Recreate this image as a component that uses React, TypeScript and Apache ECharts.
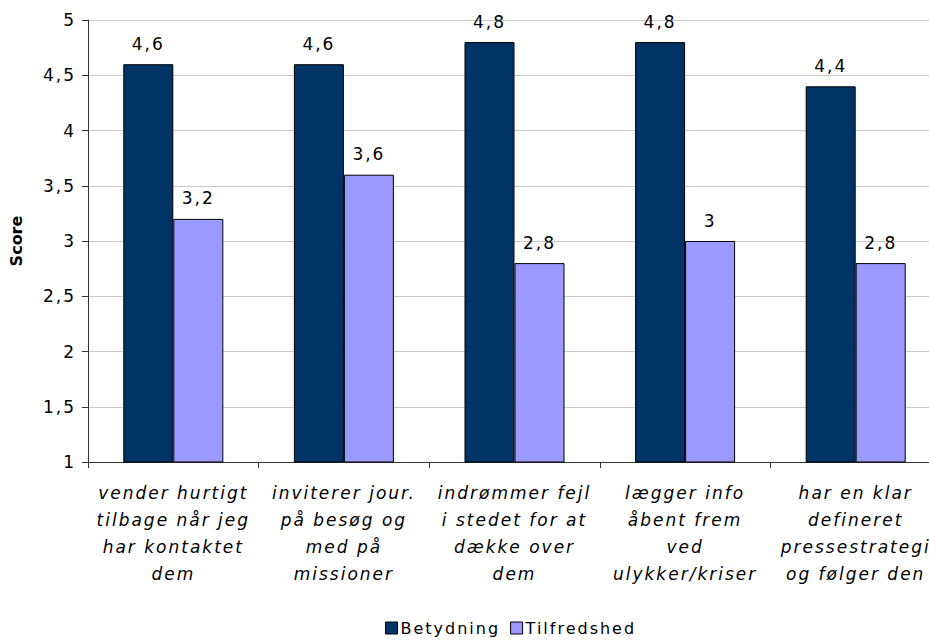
import React, { useEffect, useRef } from "react";
import * as echarts from "echarts";

const categories = [
  "vender hurtigt\ntilbage når jeg\nhar kontaktet\ndem",
  "inviterer jour.\npå besøg og\nmed på\nmissioner",
  "indrømmer fejl\ni stedet for at\ndække over\ndem",
  "lægger info\nåbent frem\nved\nulykker/kriser",
  "har en klar\ndefineret\npressestrategi\nog følger den",
];
const betydning = [4.6, 4.6, 4.8, 4.8, 4.4];
const tilfredshed = [3.2, 3.6, 2.8, 3.0, 2.8];
const yTicks = { min: 1, max: 5, interval: 0.5 };

const FONT = "'DejaVu Sans', Verdana, sans-serif";
const fmt = (v: number) => String(v).replace(".", ",");

export default function App() {
  const ref = useRef<HTMLDivElement>(null);
  useEffect(() => {
    if (!ref.current) return;
    const chart = echarts.init(ref.current, null, { renderer: "svg" });
    const labelCfg = {
      show: true,
      position: "top" as const,
      distance: 12,
      color: "#000",
      fontFamily: FONT,
      fontSize: 17,
      formatter: (p: any) => fmt(p.value),
    };
    chart.setOption({
      animation: false,
      backgroundColor: "#fff",
      textStyle: { fontFamily: FONT },
      grid: { left: 88, top: 20, bottom: 179, right: -12, containLabel: false, outerBoundsMode: "none" },
      legend: {
        left: 380,
        top: 615,
        itemWidth: 12,
        itemHeight: 12,
        itemGap: 28,
        icon: "rect",
        textStyle: { fontFamily: FONT, fontSize: 16, color: "#000", padding: [0, 0, 0, -2] },
        data: [
          { name: "Betydning", itemStyle: { borderColor: "#000", borderWidth: 1 } },
          { name: "Tilfredshed", itemStyle: { borderColor: "#000", borderWidth: 1 } },
        ],
      },
      xAxis: {
        type: "category",
        data: categories,
        axisLine: { lineStyle: { color: "#333", width: 1 } },
        axisTick: { show: true, length: 6, lineStyle: { color: "#333" } },
        axisLabel: {
          interval: 0,
          fontFamily: FONT,
          fontStyle: "italic",
          fontSize: 17,
          lineHeight: 27,
          color: "#000",
          margin: 17,
          align: "center",
        },
      },
      yAxis: {
        type: "value",
        min: yTicks.min,
        max: yTicks.max,
        interval: yTicks.interval,
        name: "Score",
        nameLocation: "middle",
        nameGap: 64,
        nameRotate: 90,
        nameTextStyle: { fontFamily: FONT, fontSize: 16, fontWeight: "bold", color: "#000" },
        axisLine: { show: true, lineStyle: { color: "#333", width: 1 } },
        axisTick: { show: true, length: 6, lineStyle: { color: "#333" } },
        axisLabel: {
          fontFamily: FONT,
          fontSize: 17,
          color: "#000",
          margin: 12,
          formatter: (v: number) => fmt(v),
        },
        splitLine: { show: true, lineStyle: { color: "#c8c8c8", width: 1 } },
      },
      series: [
        {
          name: "Betydning",
          type: "bar",
          data: betydning,
          barWidth: 50,
          barGap: "0%",
          itemStyle: { color: "#003366", borderColor: "#000", borderWidth: 1 },
          label: labelCfg,
        },
        {
          name: "Tilfredshed",
          type: "bar",
          data: tilfredshed,
          barWidth: 50,
          barGap: "0%",
          itemStyle: { color: "#9999FF", borderColor: "#000", borderWidth: 1 },
          label: labelCfg,
        },
      ],
    });
    const applySpacing = () => {
      ref.current?.querySelectorAll("text").forEach((t) => {
        if (t.textContent === "Score") return;
        t.setAttribute("letter-spacing", "2");
      });
    };
    applySpacing();
    chart.on("finished", applySpacing);
    return () => chart.dispose();
  }, []);
  return <div ref={ref} style={{ width: 929, height: 641, position: "absolute", left: 0, top: 0 }} />;
}
